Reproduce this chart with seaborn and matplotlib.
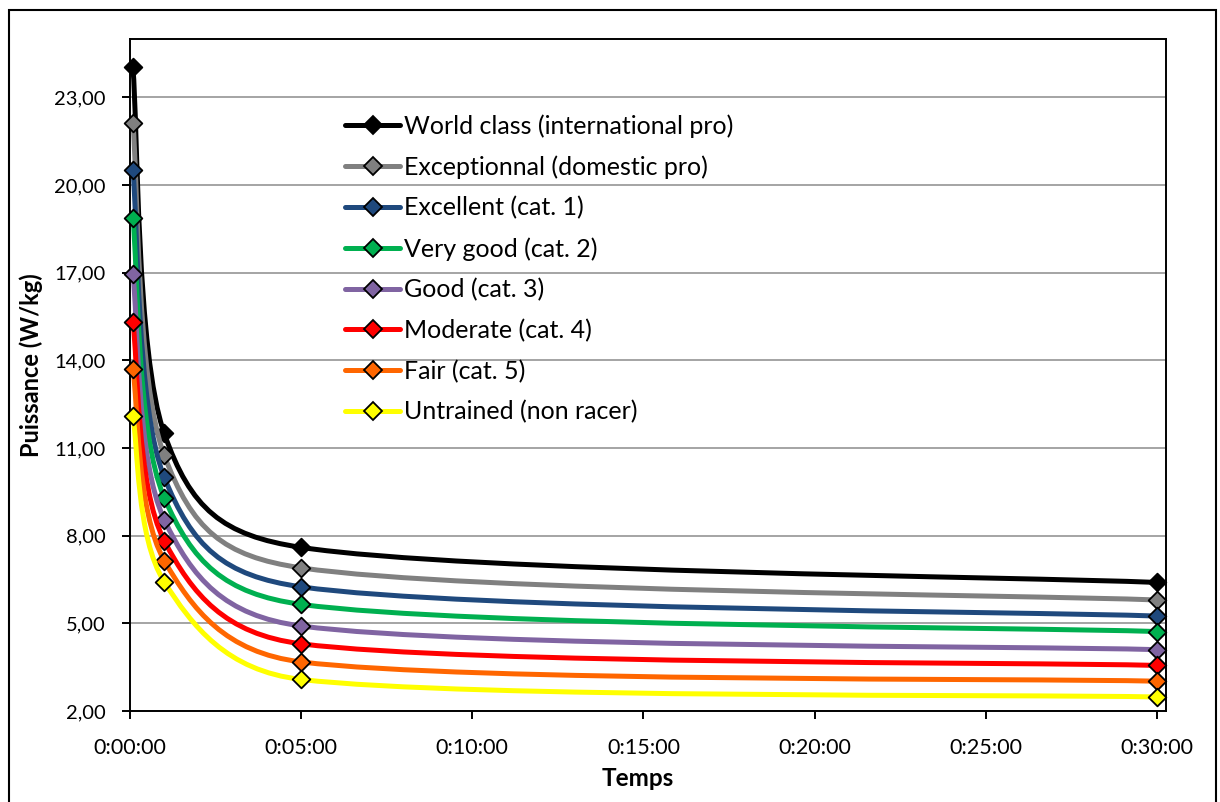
import numpy as np
import matplotlib
matplotlib.use("Agg")
import matplotlib.pyplot as plt
import seaborn as sns
from matplotlib.path import Path
from matplotlib.patches import PathPatch, Rectangle
from matplotlib.lines import Line2D

# ---------------- data ----------------
durations_s = [5, 60, 300, 1800]          # 5 s, 1 min, 5 min, 30 min
levels = [
    "World class (international pro)",
    "Exceptionnal (domestic pro)",
    "Excellent (cat. 1)",
    "Very good (cat. 2)",
    "Good (cat. 3)",
    "Moderate (cat. 4)",
    "Fair (cat. 5)",
    "Untrained (non racer)",
]
world_class = [24.04, 11.50, 7.60, 6.40]
exceptional = [22.14, 10.75, 6.90, 5.80]
excellent = [20.52, 10.00, 6.25, 5.25]
very_good = [18.88, 9.30, 5.65, 4.72]
good = [16.97, 8.55, 4.91, 4.10]
moderate = [15.33, 7.83, 4.30, 3.56]
fair = [13.72, 7.15, 3.68, 3.02]
untrained = [12.10, 6.42, 3.08, 2.48]
series = [world_class, exceptional, excellent, very_good, good, moderate, fair, untrained]
colors = ["#000000", "#808080", "#1F497D", "#00B050", "#8064A2", "#FF0000", "#FF6600", "#FFFF00"]
y_ticks = [2, 5, 8, 11, 14, 17, 20, 23]
x_ticks_s = [0, 300, 600, 900, 1200, 1500, 1800]

# ---------------- style ----------------
sns.set_theme(style="white")
plt.rcParams["font.family"] = ["Lato", "DejaVu Sans"]
plt.rcParams["text.color"] = "black"

W, H = 1220, 802
fig = plt.figure(figsize=(W / 100, H / 100), dpi=100)
ax = fig.add_axes([130 / W, 1 - 711 / H, 1036 / W, 672 / H])
ax.set_xlim(0, 1816)
ax.set_ylim(2, 25)

ax.set_yticks(y_ticks)
ax.set_yticklabels([f"{v:.2f}".replace(".", ",") for v in y_ticks])
ax.set_xticks(x_ticks_s)
ax.set_xticklabels([f"{s // 3600}:{(s % 3600) // 60:02d}:{s % 60:02d}" for s in x_ticks_s])
ax.tick_params(axis="both", direction="out", length=5.5, width=1.4, color="black",
               labelcolor="black", left=True, bottom=True)
ax.tick_params(axis="y", pad=12, labelsize=14.5)
ax.tick_params(axis="x", pad=14, labelsize=15.5)
for sp in ax.spines.values():
    sp.set_color("black")
    sp.set_linewidth(1.4)
ax.yaxis.grid(True, color="#8c8c8c", linewidth=1.1)
ax.xaxis.grid(False)
ax.set_axisbelow(True)
ax.set_xlabel("")
ax.set_ylabel("")

LW = 3.6
MS = 9.0
K = 0.45


def smooth_path(xs, ys):
    pts = ax.transData.transform(np.column_stack([xs, ys]))
    n = len(pts)
    tang = [pts[min(i + 1, n - 1)] - pts[max(i - 1, 0)] for i in range(n)]
    verts = [pts[0]]
    codes = [Path.MOVETO]
    for i in range(n - 1):
        L = np.linalg.norm(pts[i + 1] - pts[i])
        t0, t1 = tang[i], tang[i + 1]
        n0, n1 = np.linalg.norm(t0), np.linalg.norm(t1)
        l0 = min(n0 / 6, K * L)
        l1 = min(n1 / 6, K * L)
        c1 = pts[i] + t0 / n0 * l0
        c2 = pts[i + 1] - t1 / n1 * l1
        verts += [c1, c2, pts[i + 1]]
        codes += [Path.CURVE4] * 3
    verts = ax.transData.inverted().transform(np.array(verts))
    return Path(verts, codes)


for i, (vals, col) in enumerate(zip(series, colors)):
    z = 3 + i * 2
    patch = PathPatch(smooth_path(durations_s, vals), fill=False, edgecolor=col,
                      linewidth=LW, capstyle="round", joinstyle="round", zorder=z)
    ax.add_patch(patch)
    sns.scatterplot(x=durations_s, y=vals, marker="D", s=MS ** 2, color=col,
                    edgecolor="black", linewidth=1.3, ax=ax, zorder=z + 1,
                    legend=False, clip_on=False)

handles = [Line2D([], [], color=c, lw=LW, marker="D", markersize=MS,
                  markerfacecolor=c, markeredgecolor="black", markeredgewidth=1.3)
           for c in colors]
ax.legend(handles, levels, loc="upper left", bbox_to_anchor=((345 - 130) / 1036, (711 - 114) / 672),
          frameon=False, fontsize=18, handlelength=2.2, handletextpad=0.15,
          labelspacing=0.70, borderpad=0, borderaxespad=0, labelcolor="black")

fig.text(31 / W, 1 - 365 / H, "Puissance (W/kg)", rotation=90, ha="center", va="center",
         fontweight="bold", fontsize=17, color="black")
fig.text(638 / W, 1 - 779 / H, "Temps", ha="center", va="center",
         fontweight="bold", fontsize=17.5, color="black")

fig.patches.append(Rectangle((9 / W, -0.01), (1216 - 9) / W, 1 - 10 / H + 0.01,
                             transform=fig.transFigure, fill=False, edgecolor="black",
                             linewidth=1.5, zorder=10))

fig.savefig("out.png", dpi=100, facecolor="white")
